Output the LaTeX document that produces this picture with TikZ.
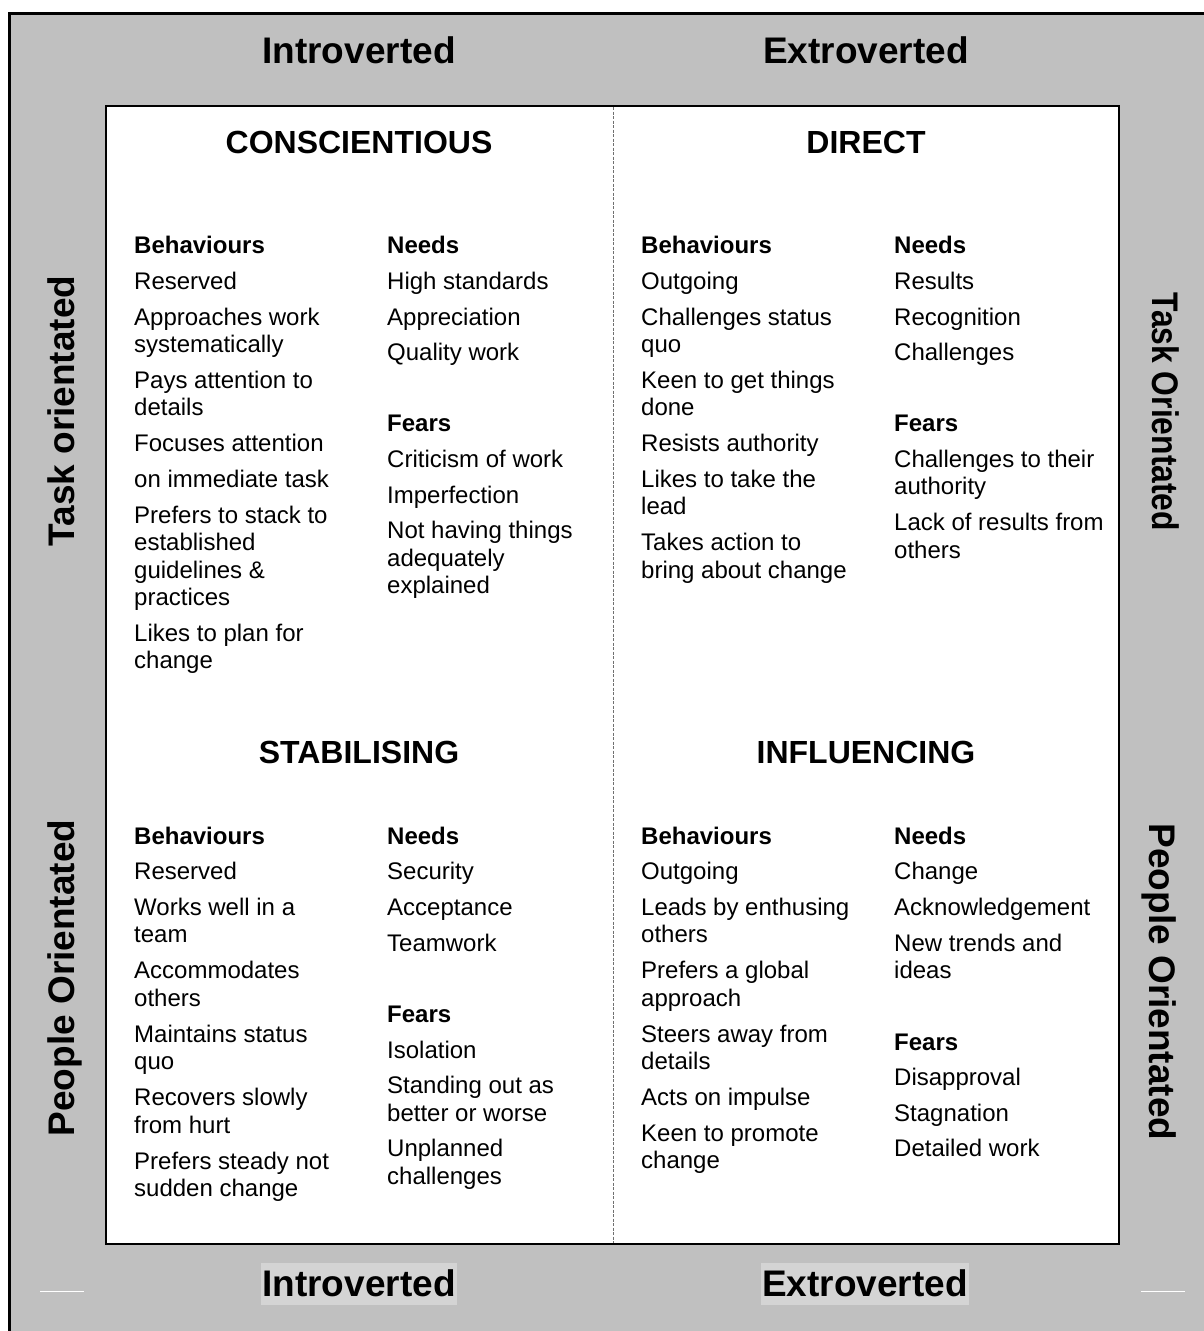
\documentclass[tikz,border=0pt]{standalone}
\usepackage{fontspec}
\usepackage{graphicx}
\setmainfont{Liberation Sans}
\definecolor{panelgrey}{HTML}{C0C0C0}
\definecolor{labelgrey}{HTML}{D4D4D4}
\definecolor{splitgrey}{HTML}{707070}

\begin{document}
\begin{tikzpicture}[x=1pt,y=-1pt]
  \tikzstyle{side}=[inner sep=0pt, text height=26.5pt, text depth=0pt, font=\fontsize{37}{40}\selectfont\bfseries]
  \tikzstyle{quad}=[inner sep=0pt, font=\fontsize{32}{36}\selectfont\bfseries]
  \tikzstyle{head}=[anchor=west, inner sep=0pt, text height=19pt, text depth=3pt, font=\fontsize{24}{27.5}\selectfont\bfseries]
  \tikzstyle{item}=[head, font=\fontsize{24}{27.5}\selectfont]
  \useasboundingbox (0,0) rectangle (1204,1331);
  \fill[white] (0,0) rectangle (1204,1331);
  % grey frame and white panel
  \fill[panelgrey] (9.5,13) rectangle (1204,1331);
  \draw[line width=3pt] (9.5,1331) -- (9.5,13) -- (1204,13);
  \draw[fill=white, line width=2.5pt] (106,106) rectangle (1119,1244);
  \draw[splitgrey, line width=1pt, dash pattern=on 3pt off 1.5pt] (613,107) -- (613,1243);
  \draw[white, line width=0.8pt] (40,1291) -- (84,1291);
  \draw[white, line width=0.8pt] (1141,1291) -- (1185,1291);
  % axis labels
  \node[side] (introtop) at (359,50) {Introverted};
  \node[side] (extrotop) at (866,50) {Extroverted};
  \node[side, fill=labelgrey, inner xsep=1pt, text height=33pt, text depth=9pt] (introbot) at (359,1284) {Introverted};
  \node[side, fill=labelgrey, inner xsep=1pt, text height=33pt, text depth=9pt] (extrobot) at (865,1284) {Extroverted};
  \node[side, rotate=90] (taskleft) at (61,411) {Task orientated};
  \node[side, rotate=90] (peopleleft) at (61,978) {People Orientated};
  \node[side, rotate=-90] (taskright) at (1166,412) {\scalebox{0.86}[1]{Task Orientated}};
  \node[side, rotate=-90] (peopleright) at (1163,982) {People Orientated};
  % quadrant titles
  \node[quad] (consc) at (359,142) {CONSCIENTIOUS};
  \node[quad] (direct) at (866,142) {DIRECT};
  \node[quad] (stab) at (359,752) {STABILISING};
  \node[quad] (influ) at (866,752) {INFLUENCING};
  % conscientious
  \node[head] (cbh) at (134,245) {Behaviours};
  \foreach \ty/\tx [count=\i] in {281/Reserved, 317/Approaches work, 344.5/systematically,
      380.5/Pays attention to, 407/details, 443/Focuses attention, 479/on immediate task,
      515/Prefers to stack to, 542.5/established, 570/guidelines \&, 597.5/practices,
      633.5/Likes to plan for, 660/change}
    \node[item] (cb\i) at (134,\ty) {\tx};
  \node[head] (cnh) at (387,245) {Needs};
  \foreach \ty/\tx [count=\i] in {281/High standards, 317/Appreciation, 352.5/Quality work}
    \node[item] (cn\i) at (387,\ty) {\tx};
  \node[head] (cfh) at (387,423) {Fears};
  \foreach \ty/\tx [count=\i] in {459/Criticism of work, 495/Imperfection, 530.5/Not having things,
      558/adequately, 585.5/explained}
    \node[item] (cf\i) at (387,\ty) {\tx};
  % direct
  \node[head] (dbh) at (641,245) {Behaviours};
  \foreach \ty/\tx [count=\i] in {281/Outgoing, 317/Challenges status, 344.5/quo,
      380.5/Keen to get things, 407/done, 443/Resists authority, 479/Likes to take the,
      506.5/lead, 542.5/Takes action to, 570/bring about change}
    \node[item] (db\i) at (641,\ty) {\tx};
  \node[head] (dnh) at (894,245) {Needs};
  \foreach \ty/\tx [count=\i] in {281/Results, 317/Recognition, 352.5/Challenges}
    \node[item] (dn\i) at (894,\ty) {\tx};
  \node[head] (dfh) at (894,423) {Fears};
  \foreach \ty/\tx [count=\i] in {459/Challenges to their, 486.5/authority,
      522.5/Lack of results from, 550/others}
    \node[item] (df\i) at (894,\ty) {\tx};
  % stabilising
  \node[head] (sbh) at (134,836) {Behaviours};
  \foreach \ty/\tx [count=\i] in {871/Reserved, 907/Works well in a, 934.5/team,
      970.5/Accommodates, 998/others, 1034/Maintains status, 1061.5/quo,
      1097.5/Recovers slowly, 1125/from hurt, 1161/Prefers steady not, 1188.5/sudden change}
    \node[item] (sb\i) at (134,\ty) {\tx};
  \node[head] (snh) at (387,836) {Needs};
  \foreach \ty/\tx [count=\i] in {871/Security, 907/Acceptance, 943/Teamwork}
    \node[item] (sn\i) at (387,\ty) {\tx};
  \node[head] (sfh) at (387,1014) {Fears};
  \foreach \ty/\tx [count=\i] in {1050/Isolation, 1085.5/Standing out as, 1113/better or worse,
      1148.5/Unplanned, 1176/challenges}
    \node[item] (sf\i) at (387,\ty) {\tx};
  % influencing
  \node[head] (ibh) at (641,836) {Behaviours};
  \foreach \ty/\tx [count=\i] in {871/Outgoing, 907/Leads by enthusing, 934.5/others,
      970.5/Prefers a global, 998/approach, 1034/Steers away from, 1061.5/details,
      1097.5/Acts on impulse, 1133/Keen to promote, 1160.5/change}
    \node[item] (ib\i) at (641,\ty) {\tx};
  \node[head] (inh) at (894,836) {Needs};
  \foreach \ty/\tx [count=\i] in {871/Change, 907/Acknowledgement, 943/New trends and, 970.5/ideas}
    \node[item] (in\i) at (894,\ty) {\tx};
  \node[head] (ifh) at (894,1042) {Fears};
  \foreach \ty/\tx [count=\i] in {1077.5/Disapproval, 1113/Stagnation, 1148.5/Detailed work}
    \node[item] (if\i) at (894,\ty) {\tx};
\end{tikzpicture}
\end{document}
